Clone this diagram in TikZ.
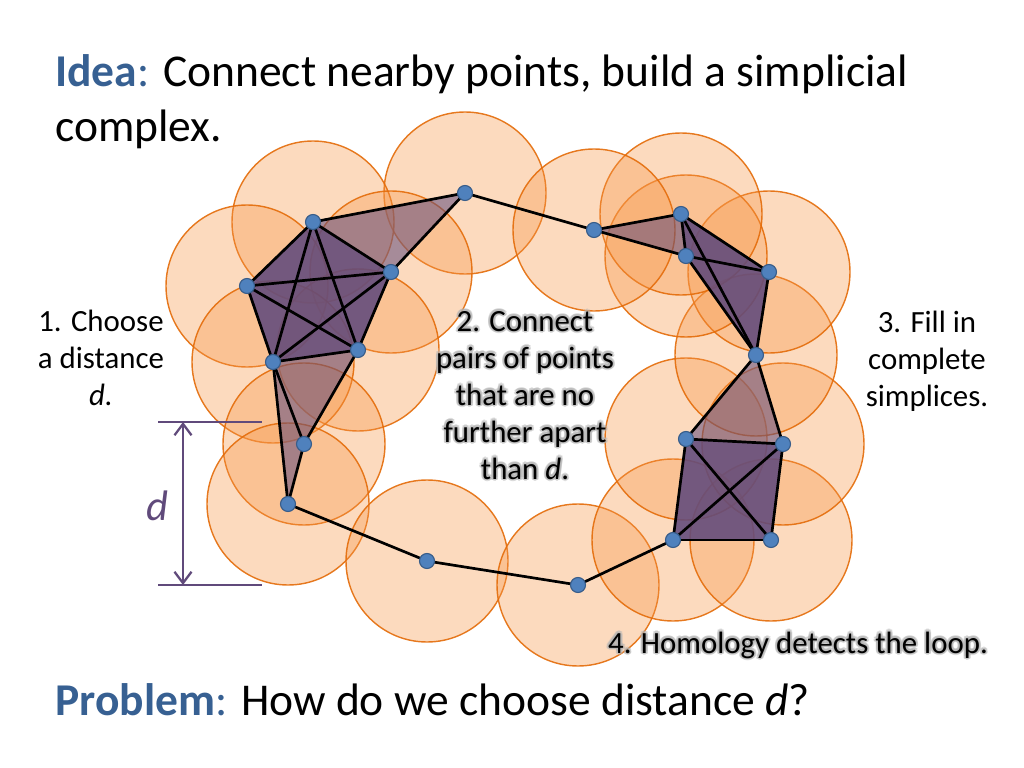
\documentclass[tikz,border=0pt]{standalone}
\usepackage{fontspec}
\setmainfont{Carlito}
\usetikzlibrary{arrows.meta,calc}
\definecolor{titleblue}{RGB}{55,96,146}
\definecolor{purpleD}{RGB}{96,74,123}
\definecolor{orangeF}{RGB}{247,150,70}
\definecolor{orangeS}{RGB}{228,108,10}
\definecolor{ptfill}{RGB}{79,129,189}
\definecolor{ptstroke}{RGB}{56,93,138}
\tikzset{
  ball/.style={fill=orangeF,fill opacity=0.35,draw=orangeS,draw opacity=0.9,line width=1pt},
  simplex/.style={fill=purpleD,fill opacity=0.55},
  bigsimplex/.style={fill=purpleD,fill opacity=0.88},
  edge/.style={black,line width=1.9pt},
  pt/.style={circle,fill=ptfill,draw=ptstroke,line width=0.8pt,minimum size=15*0.703125pt,inner sep=0pt},
  lbl/.style={font=\fontsize{21.7}{26}\selectfont,align=center,inner sep=0pt,anchor=base},
  glowlbl/.style={lbl,text=black!30,text opacity=0.4},
  dim/.style={purpleD,line width=1.6pt},
}
\newcommand\glowlabel[3]{%
  \foreach \a in {0,30,...,330}{\node[glowlbl] at ($(#1)+(\a:2.2)$) {#2};}
  \node[lbl] (#3) at (#1) {#2};}
\begin{document}
\begin{tikzpicture}[x=0.703125pt,y=-0.703125pt]
\useasboundingbox (0,0) rectangle (1024,768);
% point coordinates
\coordinate (c1) at (465,193);
\coordinate (c2) at (313,222);
\coordinate (c3) at (391,272);
\coordinate (c4) at (247,286);
\coordinate (c5) at (358,350);
\coordinate (c6) at (273,362);
\coordinate (c7) at (304,444);
\coordinate (c8) at (288,504);
\coordinate (c9) at (427,561);
\coordinate (c10) at (578,585);
\coordinate (c11) at (673,540);
\coordinate (c12) at (771,540);
\coordinate (c13) at (686,439);
\coordinate (c14) at (783,444);
\coordinate (c15) at (756,355);
\coordinate (c16) at (769,272);
\coordinate (c17) at (686,256);
\coordinate (c18) at (681,214);
\coordinate (c19) at (594,230);
% balls
\foreach \i in {1,...,19} \draw[ball] (c\i) circle (81);
% simplices
\fill[bigsimplex] (c2)--(c3)--(c5)--(c6)--(c4)--cycle;
\fill[bigsimplex] (c13)--(c14)--(c12)--(c11)--cycle;
\fill[bigsimplex] (c18)--(c16)--(c15)--(c17)--cycle;
\fill[simplex] (c1)--(c2)--(c3)--cycle;
\fill[simplex] (c6)--(c5)--(c7)--cycle;
\fill[simplex] (c6)--(c7)--(c8)--cycle;
\fill[simplex] (c13)--(c14)--(c15)--cycle;
\fill[simplex] (c19)--(c18)--(c17)--cycle;
% edges
\foreach \a/\b in {2/3,2/4,2/5,2/6,3/4,3/5,3/6,4/5,4/6,5/6,1/2,1/3,6/7,5/7,6/8,7/8,8/9,9/10,10/11,
  11/12,11/13,11/14,12/13,12/14,13/14,13/15,14/15,15/16,15/17,15/18,16/17,16/18,17/18,19/18,19/17,19/1}
  \draw[edge] (c\a) -- (c\b);
% points
\foreach \i in {1,...,19} \node[pt] (p\i) at (c\i) {};
% title
\node[anchor=base west,inner sep=0pt,align=left,font=\fontsize{32}{38.7}\selectfont] (title) at (55,142)
  {{\color{titleblue}\textbf{Idea}:} Connect nearby points, build a simplicial\\complex.};
\node[anchor=base west,inner sep=0pt,font=\fontsize{32}{38.7}\selectfont] (problem) at (55,715)
  {{\color{titleblue}\textbf{Problem}:} How do we choose distance \textit{d}?};
% labels
\node[lbl] (l1) at (101,405) {1. Choose\\a distance\\\textit{d.}};
\node[lbl] (l3) at (927,406) {3. Fill in\\complete\\simplices.};
\coordinate (g2) at (525,479);
\glowlabel{g2}{2. Connect\\pairs of points\\that are no\\further apart\\than \textit{d}.}{l2}
\coordinate (g4) at (798,653);
\glowlabel{g4}{4. Homology detects the loop.}{l4}
% distance marker
\coordinate (dt1) at (158,422); \coordinate (dt2) at (262,422);
\coordinate (db1) at (158,585); \coordinate (db2) at (262,585);
\coordinate (at) at (183,422); \coordinate (ab) at (183,585);
\draw[dim] (dt1) -- (dt2);
\draw[dim] (db1) -- (db2);
\draw[dim,{Straight Barb[length=8pt,width=12pt]}-{Straight Barb[length=8pt,width=12pt]}] (at) -- (ab);
\node[anchor=base,inner sep=0pt,text=purpleD,font=\fontsize{30}{36}\selectfont\itshape] (dlab) at (157,520) {d};
\end{tikzpicture}
\end{document}
